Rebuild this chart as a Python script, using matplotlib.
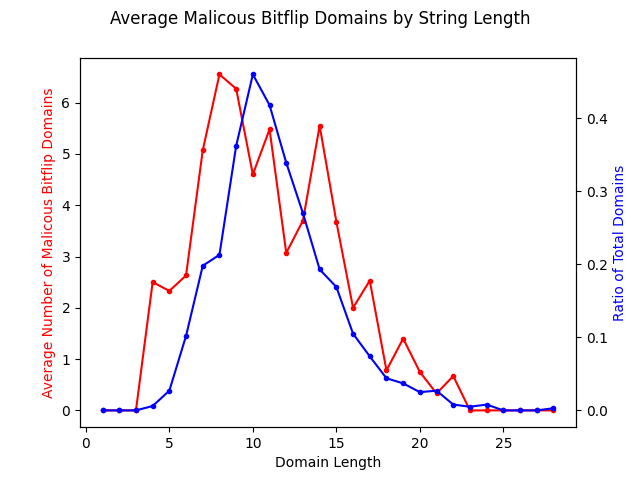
import matplotlib
matplotlib.use("Agg")
import matplotlib.pyplot as plt

lengths = list(range(1, 29))
avg_malicious = [0, 0, 0, 2.5, 2.33, 2.63, 5.07, 6.55, 6.27, 4.6, 5.48, 3.07, 3.7, 5.55,
                 3.68, 2.0, 2.53, 0.78, 1.4, 0.75, 0.33, 0.67, 0.0, 0.0, 0, 0, 0, 0.0]
ratio_total = [0, 0, 0, 0.006, 0.027, 0.102, 0.198, 0.213, 0.362, 0.46, 0.418, 0.339, 0.27,
               0.193, 0.169, 0.105, 0.074, 0.044, 0.037, 0.025, 0.027, 0.008, 0.005, 0.008,
               0, 0, 0, 0.003]

fig, ax = plt.subplots(figsize=(6.4, 4.8), dpi=100)
ax.plot(lengths, avg_malicious, color="red", marker=".")
ax.set_xlabel("Domain Length")
ax.set_ylabel("Average Number of Malicous Bitflip Domains", color="red")
ax2 = ax.twinx()
ax2.plot(lengths, ratio_total, color="blue", marker=".")
ax2.set_ylabel("Ratio of Total Domains", color="blue")
fig.suptitle("Average Malicous Bitflip Domains by String Length")
fig.savefig("out.png")
